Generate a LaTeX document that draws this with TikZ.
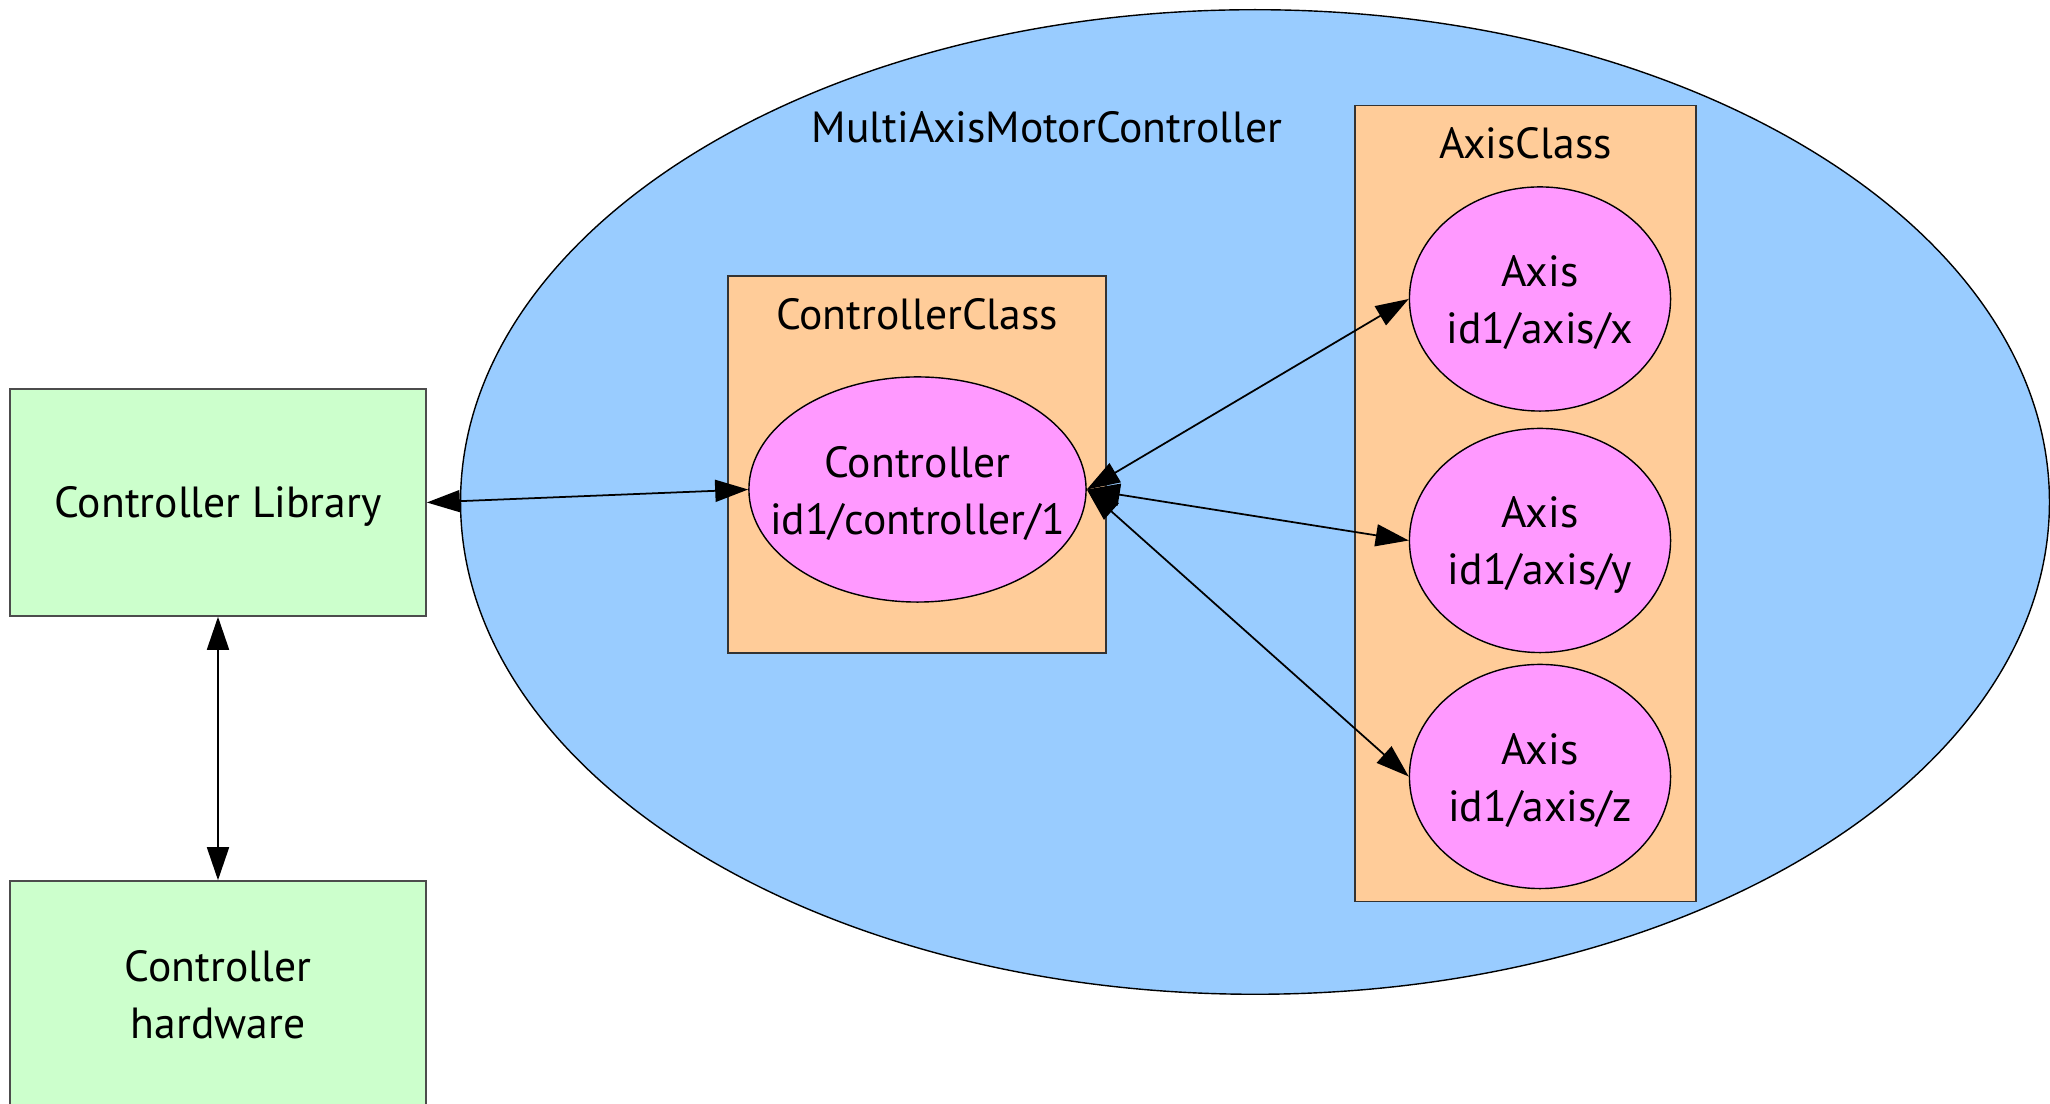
\documentclass[tikz,border=0pt]{standalone}
\usepackage{fontspec}
\setmainfont{PT Sans}
\usetikzlibrary{arrows.meta, shapes.geometric}
\definecolor{sysblue}{HTML}{99CCFF}
\definecolor{libgreen}{HTML}{CCFFCC}
\definecolor{classorange}{HTML}{FFCC99}
\definecolor{objpink}{HTML}{FF99FF}

\begin{document}
\begin{tikzpicture}[
  x=0.01cm, y=-0.01cm,
  every node/.style={font=\fontsize{12.4}{16.2}\selectfont, align=center, inner sep=0pt},
  libbox/.style={rectangle, draw=black!70, fill=libgreen, minimum width=4.16cm, minimum height=2.27cm},
  classbox/.style={rectangle, draw=black!80, fill=classorange},
  obj/.style={ellipse, draw, fill=objpink},
  objtext/.style={yshift=-0.04cm},
  arr/.style={{Triangle[length=3.3mm, width=2.2mm]}-{Triangle[length=3.3mm, width=2.2mm]}, line width=0.5pt}
]
\useasboundingbox (0,0) rectangle (2050,1104);
\node[ellipse, draw, fill=sysblue, minimum width=15.88cm, minimum height=9.84cm] (mamc) at (1255,502) {};
\node[anchor=base] (mamctitle) at (1047,143) {MultiAxisMotorController};

\node[libbox] (lib) at (218,502.5) {};
\node[objtext] (libtext) at (lib) {Controller Library};
\node[libbox] (hw) at (218,994.5) {};
\node (hwtext) at (hw) {Controller\\hardware};

\node[classbox, minimum width=3.78cm, minimum height=3.77cm] (ctrlclass) at (917,464.5) {};
\node[anchor=base] (ctrlclasstitle) at (917,330) {ControllerClass};
\node[obj, minimum width=3.37cm, minimum height=2.25cm] (ctrl) at (917.5,489.5) {};
\node[objtext] (ctrltext) at (ctrl) {Controller\\id1/controller/1};

\node[classbox, minimum width=3.41cm, minimum height=7.95cm] (axisclass) at (1525.5,503.5) {};
\node[anchor=base] (axisclasstitle) at (1525.5,159) {AxisClass};
\node[obj, minimum width=2.61cm, minimum height=2.24cm] (axx) at (1540,299) {};
\node[objtext] (axxtext) at (axx) {Axis\\id1/axis/x};
\node[obj, minimum width=2.61cm, minimum height=2.24cm] (axy) at (1540,540.5) {};
\node[objtext] (axytext) at (axy) {Axis\\id1/axis/y};
\node[obj, minimum width=2.61cm, minimum height=2.24cm] (axz) at (1540,776.5) {};
\node[objtext] (axztext) at (axz) {Axis\\id1/axis/z};

\draw[arr] (lib.east) -- (ctrl.west);
\draw[arr] (lib.south) -- (hw.north);
\foreach \ax in {axx,axy,axz}
  \draw[arr] (ctrl.east) -- (\ax.west);
\end{tikzpicture}
\end{document}
